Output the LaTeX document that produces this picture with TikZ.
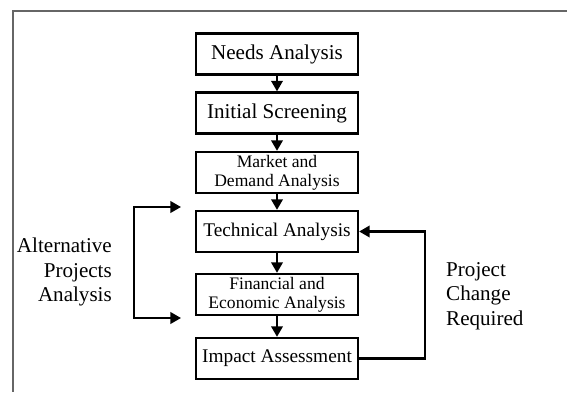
\documentclass[tikz,border=0pt]{standalone}
\usepackage{fontspec}
\setmainfont{Liberation Serif}
\usetikzlibrary{arrows.meta}
\begin{document}
\begin{tikzpicture}[x=0.02cm, y=-0.02cm,
		stage/.style = {draw, line width=1.3pt, minimum width=3.24cm, minimum height=0.82cm, inner sep=0pt, align=center},
		big/.style = {font=\fontsize{12}{14}\selectfont},
		mid/.style = {font=\fontsize{11}{13}\selectfont},
		small/.style = {font=\fontsize{10}{11}\selectfont},
		tip/.style = {Triangle[length=6pt, width=6.5pt]},
		flow/.style = {line width=1.3pt, -{Triangle[length=6pt, width=6.5pt]}}]
		\useasboundingbox (0, 0) rectangle (567, 392);
		\draw[line width=1.2pt, black!60] (567, 11) -- (13, 11) -- (13, 392);
		\node[stage, big] (needs) at (277, 54) {Needs Analysis};
		\node[stage, big] (screen) at (277, 113) {Initial Screening};
		\node[stage, small] (market) at (277, 172.5) {Market and\\Demand Analysis};
		\node[stage, mid] (tech) at (277, 231.5) {Technical Analysis};
		\node[stage, small] (fin) at (277, 294.5) {Financial and\\Economic Analysis};
		\node[stage, mid] (impact) at (277, 358.5) {Impact Assessment};
		\foreach \a/\b in {needs/screen, screen/market, market/tech, tech/fin, fin/impact}{
			\draw[flow] (\a) -- (\b);}
		\coordinate (altA) at (181, 207);
		\coordinate (altB) at (181, 318);
		\draw[flow, {Triangle[length=6pt, width=6.5pt]}-{Triangle[length=6pt, width=6.5pt]}] (altA) -- (134, 207) -- (134, 318) -- (altB);
		\draw[flow] (impact.east) -- ++(66, 0) |- (tech.east);
		\node[big, align=right, anchor=east] (alt) at (118, 272) {Alternative\\Projects\\Analysis};
		\node[big, align=left, anchor=west] (change) at (440, 296) {Project\\Change\\Required};
	\end{tikzpicture}
\end{document}
